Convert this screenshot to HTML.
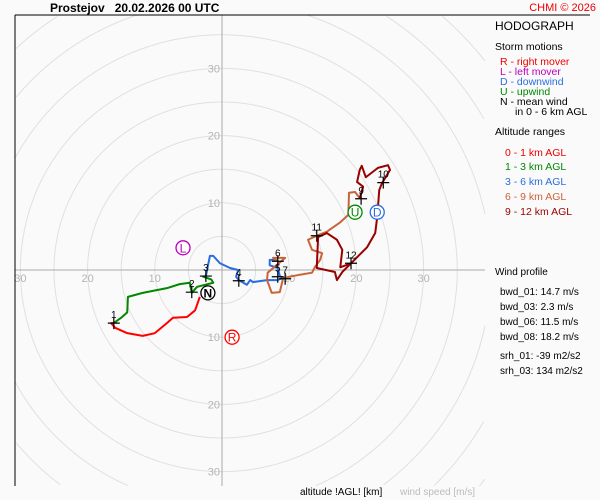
<!DOCTYPE html>
<html><head><meta charset="utf-8"><style>
html,body{margin:0;padding:0;background:#fafafa;width:600px;height:500px;overflow:hidden;}
svg{display:block;font-family:"Liberation Sans",sans-serif;}
</style></head><body>
<svg id="chart" width="600" height="500" viewBox="0 0 600 500">
<rect width="600" height="500" fill="#fafafa"/>
<g id="grid"></g>
<g id="series"></g>
<line x1="15" y1="15" x2="590" y2="15" stroke="#000" stroke-width="1"/>
<line x1="15" y1="15" x2="15" y2="486" stroke="#000" stroke-width="1"/>
<text x="50" y="12" font-size="12" font-weight="bold">Prostejov&#160;&#160;&#160;20.02.2026 00 UTC</text>
<text x="596" y="11" font-size="11" fill="#e00" text-anchor="end">CHMI © 2026</text>
<g font-size="10.5">
<text x="495" y="30" font-size="12">HODOGRAPH</text>
<text x="495" y="50">Storm motions</text>
<text x="500" y="65" fill="#e00">R - right mover</text>
<text x="500" y="75" fill="#b0b">L - left mover</text>
<text x="500" y="85" fill="#2a6de0">D - downwind</text>
<text x="500" y="95" fill="#080">U - upwind</text>
<text x="500" y="105">N - mean wind</text>
<text x="515" y="115">in 0 - 6 km AGL</text>
<text x="495" y="135">Altitude ranges</text>
<text x="505" y="156" fill="#e00">0 - 1 km AGL</text>
<text x="505" y="170" fill="#080">1 - 3 km AGL</text>
<text x="505" y="185" fill="#2a6de0">3 - 6 km AGL</text>
<text x="505" y="200" fill="#c8643a">6 - 9 km AGL</text>
<text x="505" y="215" fill="#900">9 - 12 km AGL</text>
</g>
<g font-size="10">
<text x="495" y="275">Wind profile</text>
<text x="500" y="295">bwd_01: 14.7 m/s</text>
<text x="500" y="310">bwd_03: 2.3 m/s</text>
<text x="500" y="325">bwd_06: 11.5 m/s</text>
<text x="500" y="340">bwd_08: 18.2 m/s</text>
<text x="500" y="359">srh_01: -39 m2/s2</text>
<text x="500" y="374">srh_03: 134 m2/s2</text>
</g>
<text x="300" y="495" font-size="10">altitude !AGL! [km]</text>
<text x="400" y="495" font-size="10" fill="#bbb">wind speed [m/s]</text>
</svg>
<script>
const ringSpeeds=[5,10,15,20,25,30,35,40,45,50,55];
const tickLabels=[10,20,30];
const seg01=[[-3.3,-4.0],[-4.0,-6.0],[-5.2,-7.0],[-7.3,-7.1],[-8.2,-7.9],[-10.0,-9.4],[-11.8,-9.8],[-14.1,-9.4],[-15.9,-8.6],[-16.5,-7.9],[-16.1,-7.9]];
const seg13=[[-16.1,-7.9],[-15.0,-7.1],[-14.1,-6.3],[-14.0,-4.0],[-11.8,-3.4],[-8.2,-2.7],[-6.3,-2.1],[-4.8,-1.9],[-4.5,-3.4],[-3.7,-2.5],[-1.3,-1.9],[-1.6,-1.4],[-2.8,-1.0],[-2.4,-0.9]];
const seg36=[[-2.4,-0.9],[-1.8,2.1],[-1.3,2.1],[-0.3,1.0],[1.2,0.3],[2.4,0],[2.1,-1.0],[2.5,-1.5],[3.7,-2.2],[4.2,-1.5],[4.6,-1.8],[6.7,-1.5],[8.2,-1.5],[9.1,-1.2],[8.6,-0.9],[8.3,0.3],[7.1,0.7],[7.1,1.5],[8.0,1.5],[8.3,1.3]];
const seg69=[[8.3,1.3],[7.6,1.8],[9.4,1.8],[6.8,-0.4],[6.7,-1.5],[7.4,-3.4],[8.6,-3.3],[9.1,-1.2],[11.6,-0.7],[13.4,-0.4],[13.8,0.4],[14.6,1.5],[14.9,2.5],[13.4,3.0],[12.8,4.5],[14.1,5.1],[15.6,5.7],[17.6,7.1],[18.8,8.2],[18.9,11.5],[19.8,11.6],[20.5,10.7]];
const seg912=[[20.5,10.7],[21.0,12.4],[20.1,13.1],[20.5,14.9],[20.8,15.5],[21.4,13.8],[23.2,15.2],[24.7,15.6],[25.0,14.9],[23.8,12.9],[23.4,11.9],[23.1,7.9],[22.8,5.5],[21.6,3.4],[19.2,1.0],[17.9,-0.3],[17.1,-1.5],[16.8,-0.3],[14.1,0.3],[14.3,4.9],[15.6,5.5],[17.1,4.5],[17.9,3.0],[17.6,0.4],[19.2,1.0]];
const kmLabels=["1","2","3","4","5","6","7","9","10","11","12"];
const kmU=[-16.1,-4.5,-2.4,2.5,8.3,8.3,9.4,20.7,24.0,14.1,19.2];
const kmV=[-7.9,-3.3,-0.9,-1.6,-1.0,1.3,-1.3,10.6,13.0,5.1,1.0];
const stormLetters=["R","L","U","D","N"];
const stormU=[1.5,-5.8,19.8,23.1,-2.1];
const stormV=[-10.0,3.3,8.6,8.6,-3.4];

const CX=222,CY=270,S=6.72;
const X0=15,X1=485,Y0=15,Y1=486;
const sx=u=>CX+u*S, sy=v=>CY-v*S;
const NS="http://www.w3.org/2000/svg";
function mk(tag,attrs,parent){const e=document.createElementNS(NS,tag);for(const k in attrs)e.setAttribute(k,attrs[k]);parent.appendChild(e);return e;}
const grid=document.getElementById('grid'),series=document.getElementById('series'),svg=document.getElementById('chart');
const inside=(x,y)=>x>=X0&&x<=X1&&y>=Y0&&y<=Y1;
ringSpeeds.forEach(r=>{
 let d='',pen=false;
 for(let k=0;k<=720;k++){const t=k/720*2*Math.PI;const x=CX+r*S*Math.cos(t),y=CY+r*S*Math.sin(t);
  if(inside(x,y)){d+=(pen?'L':'M')+x.toFixed(1)+','+y.toFixed(1);pen=true;}else pen=false;}
 if(!d)return;
 const c=mk('path',{d:d,fill:'none',stroke:'#e0e0e0','stroke-width':1},grid);
 
 });
let a=mk('line',{x1:X0,y1:CY,x2:X1,y2:CY,stroke:'#aaa','stroke-width':1},grid);


a=mk('line',{x1:CX,y1:Y0,x2:CX,y2:Y1,stroke:'#aaa','stroke-width':1},grid);


tickLabels.forEach(t=>{
 [[sx(t),CY+12,'middle'],[sx(-t),CY+12,'middle']].forEach(p=>{const e=mk('text',{x:p[0],y:p[1],'font-size':11,fill:'#b4b4b4','text-anchor':p[2]},grid);e.textContent=t;
 
 });
 [sy(t),sy(-t)].forEach(y=>{const e=mk('text',{x:CX-2,y:y+4,'font-size':11,fill:'#b4b4b4','text-anchor':'end'},grid);e.textContent=t;
 
 });
});
const segs=[[seg01,'#f00','trace-0-1km'],[seg13,'#080','trace-1-3km'],[seg36,'#2a6de0','trace-3-6km'],[seg69,'#c8643a','trace-6-9km'],[seg912,'#900','trace-9-12km']];
segs.forEach(s=>{const p=mk('polyline',{points:s[0].map(d=>sx(d[0])+','+sy(d[1])).join(' '),fill:'none',stroke:s[1],'stroke-width':2,'stroke-linejoin':'round'},series);

});
kmLabels.forEach((l,i)=>{const x=sx(kmU[i]),y=sy(kmV[i]);
 const c=mk('path',{d:`M${x-6},${y}H${x+6}M${x},${y-6}V${y+6}`,stroke:'#000','stroke-width':1.2},series);
 
 
 const t=mk('text',{x:x,y:y-5,'font-size':10,fill:'#000','text-anchor':'middle'},series);t.textContent=l;
 
 });
const sc={R:'#f00',L:'#b0b',U:'#080',D:'#2a6de0',N:'#000'};
stormLetters.forEach((l,i)=>{const x=sx(stormU[i]),y=sy(stormV[i]);
 const c=mk('circle',{cx:x,cy:y,r:7,fill:'#fff',stroke:sc[l],'stroke-width':1.3},svg);
 
 
 const t=mk('text',{x:x,y:y+4.5,'font-size':12,fill:sc[l],'text-anchor':'middle','font-weight':l==='N'?'bold':'normal'},svg);t.textContent=l;
 
 });
</script>
</body></html>
